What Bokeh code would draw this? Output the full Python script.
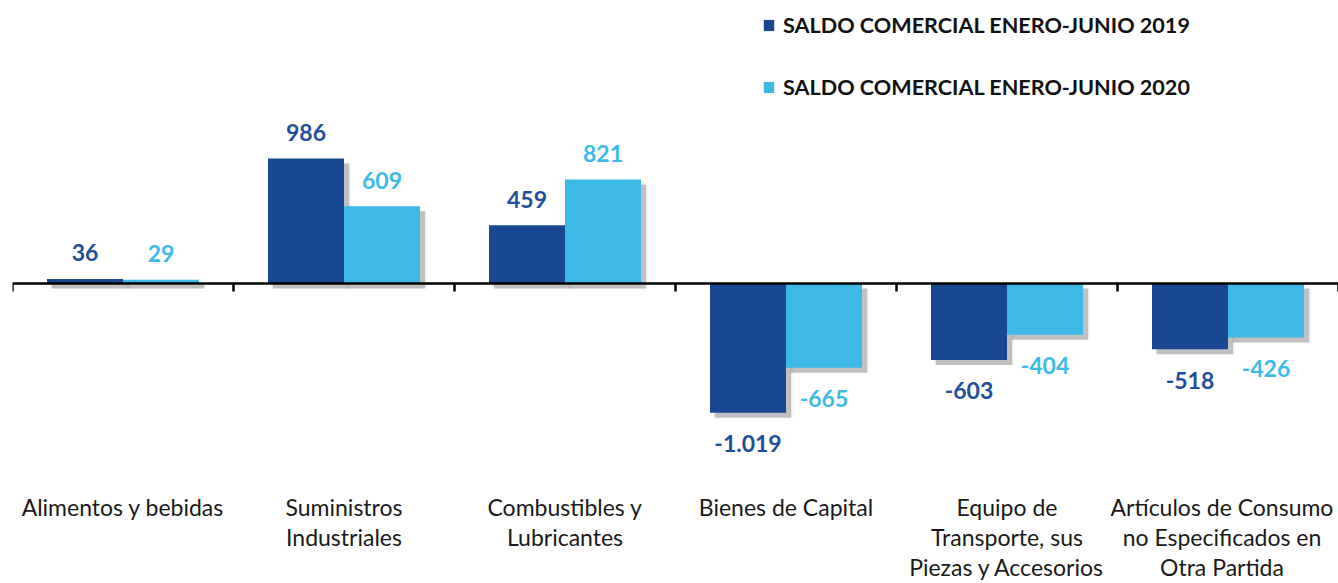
from bokeh.plotting import figure
from bokeh.models import ColumnDataSource, Span, Legend, LegendItem, Range1d
from bokeh.core.properties import value
from bokeh.embed import file_html
from bokeh.resources import INLINE

categories = ["Alimentos y bebidas", "Suministros\nIndustriales", "Combustibles y\nLubricantes",
              "Bienes de Capital", "Equipo de\nTransporte, sus\nPiezas y Accesorios",
              "Artículos de Consumo\nno Especificados en\nOtra Partida"]
saldo_2019 = [36, 986, 459, -1019, -603, -518]
saldo_2020 = [29, 609, 821, -665, -404, -426]
series_names = ["SALDO COMERCIAL ENERO-JUNIO 2019", "SALDO COMERCIAL ENERO-JUNIO 2020"]

DARK = "#1a4791"
LIGHT = "#3cb9e4"
DARK_TXT = "#1f4e9a"
LIGHT_TXT = "#3cbbe8"

W, H = 1338, 583
LEFT = 12
SCALE = 125 / 986.0      # px per unit
ZERO_PX = 283
Y_END = ZERO_PX / SCALE
Y_START = -(H - ZERO_PX) / SCALE
XPX = (W - LEFT) / 6.0

centers = [i + 0.5 for i in range(len(categories))]
BW = 76 / XPX
x19 = [c - BW / 2 for c in centers]
x20 = [c + BW / 2 for c in centers]


def fmt(v):
    return format(v, ",").replace(",", ".")


p = figure(width=W, height=H, output_backend="svg", toolbar_location=None,
           x_range=Range1d(0, 6), y_range=Range1d(Y_START, Y_END),
           min_border_left=LEFT, min_border_right=0, min_border_top=0, min_border_bottom=0)
p.xaxis.visible = False
p.yaxis.visible = False
p.xgrid.visible = False
p.ygrid.visible = False
p.outline_line_color = None
p.background_fill_color = "white"

# shadows
sx = 5 / XPX
sy = 5 / SCALE
for xs, vals in ((x19, saldo_2019), (x20, saldo_2020)):
    src = ColumnDataSource(dict(x=[x + sx for x in xs], top=[max(v, 0) - sy for v in vals],
                                bottom=[min(v, 0) - sy for v in vals]))
    p.vbar(x="x", top="top", bottom="bottom", width=BW + 3 / XPX, source=src,
           fill_color="#808080", fill_alpha=0.15, line_color=None)
    p.vbar(x="x", top="top", bottom="bottom", width=BW, source=src,
           fill_color="#808080", fill_alpha=0.4, line_color=None)

src19 = ColumnDataSource(dict(x=x19, top=saldo_2019, lbl=[fmt(v) for v in saldo_2019],
                              off=[-26 if v >= 0 else 31 for v in saldo_2019]))
src20 = ColumnDataSource(dict(x=x20, top=saldo_2020, lbl=[fmt(v) for v in saldo_2020],
                              off=[-26 if v >= 0 else 31 for v in saldo_2020]))
r19 = p.vbar(x="x", top="top", bottom=0, width=BW, source=src19, fill_color=DARK, line_color=None)
r20 = p.vbar(x="x", top="top", bottom=0, width=BW, source=src20, fill_color=LIGHT, line_color=None)

for src, col in ((src19, DARK_TXT), (src20, LIGHT_TXT)):
    p.text(x="x", y="top", text="lbl", y_offset="off", source=src, text_align="center",
           text_baseline="middle", text_font=value("Lato"), text_font_style="bold",
           text_font_size="23px", text_color=col)

# zero line and ticks
p.add_layout(Span(location=0, dimension="width", line_color="black", line_width=2.5))
bounds = list(range(len(categories) + 1))
p.segment(x0=bounds, x1=bounds, y0=[0] * len(bounds), y1=[-8 / SCALE] * len(bounds),
          line_color="black", line_width=2.5)

# category labels
cat_src = ColumnDataSource(dict(x=centers, y=[0] * len(centers), text=categories,
                                xo=[0, 0, 0, 0, 0, -6]))
p.text(x="x", y="y", text="text", x_offset="xo", y_offset=209, source=cat_src,
       text_align="center", text_baseline="top", text_font=value("Lato"),
       text_font_size="23px", text_color="#1a1a1a", text_line_height=1.08)

legend = Legend(items=[LegendItem(label=series_names[0], renderers=[r19]),
                       LegendItem(label=series_names[1], renderers=[r20])],
                location=(750, 483), orientation="vertical",
                glyph_width=13, glyph_height=14, label_standoff=8, spacing=36,
                padding=0, margin=0, border_line_color=None, background_fill_alpha=0,
                label_text_font="Lato", label_text_font_style="bold",
                label_text_font_size="21.6px", label_text_color="#111111")
p.add_layout(legend, "center")

open("out.html", "w").write(file_html(p, INLINE))
